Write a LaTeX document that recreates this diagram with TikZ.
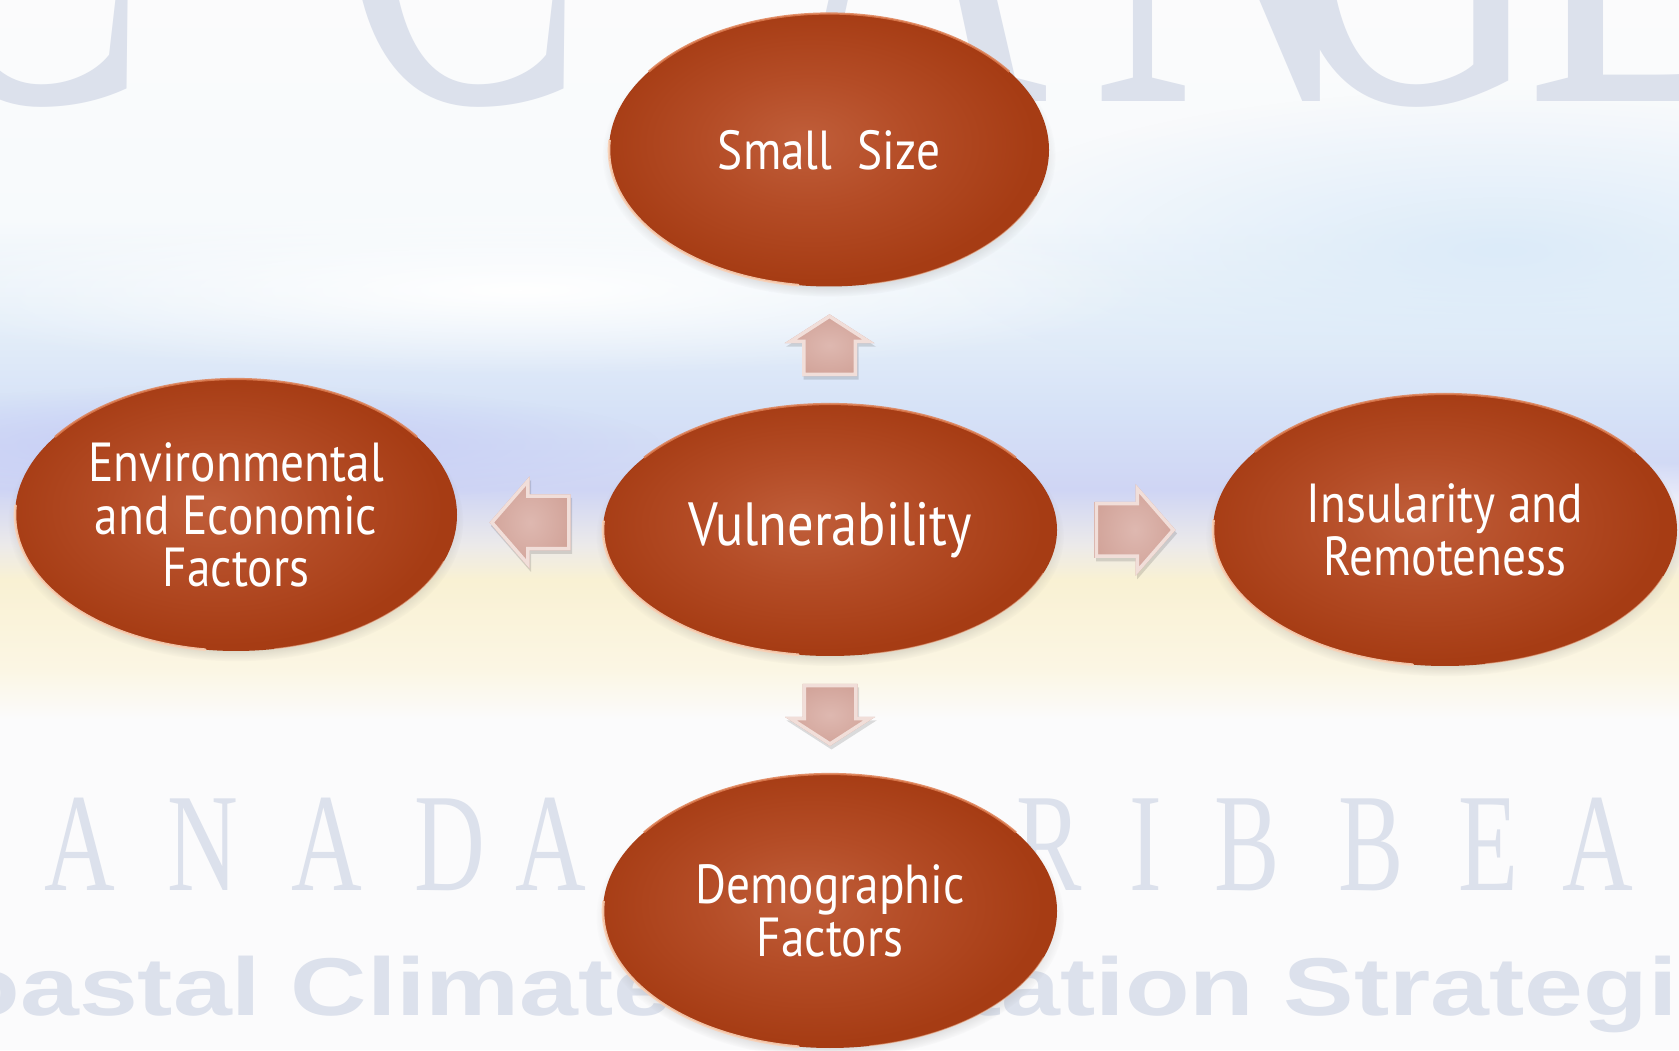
\documentclass[tikz,border=0pt]{standalone}
\usepackage{fontspec}
\setmainfont{PT Sans}[FakeStretch=0.86]
\newfontfamily\wmserif{Liberation Serif}
\newfontfamily\wmsans{Liberation Sans}
\usetikzlibrary{shapes.geometric,calc,fadings,shadows}

% palette
\definecolor{ballin}{RGB}{192,94,58}
\definecolor{ballmid}{RGB}{180,76,38}
\definecolor{ballout}{RGB}{166,60,20}
\definecolor{rimlight}{RGB}{250,208,180}
\definecolor{rimtop}{RGB}{222,126,82}
\definecolor{arrowbody}{RGB}{210,164,154}
\definecolor{arrowhi}{RGB}{222,184,176}
\definecolor{arrowbevel}{RGB}{241,222,217}
\definecolor{wmark}{RGB}{220,225,236}
\definecolor{bgwhite}{RGB}{251,251,252}
\definecolor{sandA}{RGB}{251,246,228}
\definecolor{sandB}{RGB}{249,241,211}
\definecolor{mixA}{RGB}{236,234,234}
\definecolor{lav}{RGB}{207,213,244}
\definecolor{skyA}{RGB}{214,226,247}
\definecolor{skyB}{RGB}{230,240,249}
\definecolor{skyC}{RGB}{247,250,252}
\definecolor{skyblob}{RGB}{220,235,249}
\definecolor{lavblob}{RGB}{198,204,245}

\pgfdeclareradialshading{ballshade}{\pgfpoint{-3bp}{2bp}}{color(0bp)=(ballin); color(12bp)=(ballmid); color(25bp)=(ballout); color(50bp)=(ballout)}
\tikzfading[name=softblob, inner color=transparent!0, outer color=transparent!100]

% block arrow outline: length, head length, head width, shaft width
\newcommand\arrowpoly[4]{({-#1/2},{-#4/2}) -- ({#1/2-#2},{-#4/2}) -- ({#1/2-#2},{-#3/2}) -- ({#1/2},0) -- ({#1/2-#2},{#3/2}) -- ({#1/2-#2},{#4/2}) -- ({-#1/2},{#4/2}) -- cycle}

% bevelled block arrow: position, angle, length, head length, head width, shaft width
\newcommand\blockarrow[6]{%
  \begin{scope}[shift={#1}]
    \begin{scope}[shift={(1.5,-3.5)}, rotate=#2]
      \fill[black, opacity=.13] \arrowpoly{#3}{#4}{#5}{#6};
    \end{scope}
    \begin{scope}[rotate=#2]
      \clip \arrowpoly{#3}{#4}{#5}{#6};
      \shade[inner color=arrowhi, outer color=arrowbody] \arrowpoly{#3}{#4}{#5}{#6};
      \draw[arrowbevel, line width=7pt, line join=miter] \arrowpoly{#3}{#4}{#5}{#6};
    \end{scope}
  \end{scope}}

% glossy rims of an oval: name, x radius, y radius
\newcommand\ballrims[3]{%
  \draw[rimtop, line width=2.2pt, opacity=.85]
    ($(#1.center)+(35:#2pt and #3pt)$) arc[start angle=35, end angle=145, x radius=#2pt, y radius=#3pt];
  \draw[rimlight, line width=2.6pt, line cap=round, opacity=.9]
    ($(#1.center)+(176:#2pt and #3pt)$) arc[start angle=176, end angle=262, x radius=#2pt, y radius=#3pt];
  \draw[rimlight, line width=1.2pt, line cap=round, opacity=.5]
    ($(#1.center)+(280:#2pt and #3pt)$) arc[start angle=280, end angle=340, x radius=#2pt, y radius=#3pt];}

\begin{document}
\begin{tikzpicture}[x=1pt, y=1pt,
  ball/.style={ellipse, inner sep=0pt, outer sep=0pt, shade, shading=ballshade,
    text=white, align=center, font=\fontsize{55}{52.5}\selectfont,
    circular drop shadow={shadow xshift=0pt, shadow yshift=-6pt, shadow scale=1.03, opacity=.45}},
  wmtop/.style={text=wmark, inner sep=0pt, anchor=base, xscale=.62, font=\wmserif\fontsize{600}{600}\selectfont},
  wmcap/.style={text=wmark, inner sep=0pt, anchor=base, xscale=.7, font=\wmserif\fontsize{140}{140}\selectfont},
  wmline/.style={text=wmark, inner sep=0pt, anchor=base west, xscale=1.29, font=\wmsans\bfseries\fontsize{82}{82}\selectfont}]
\useasboundingbox (0,0) rectangle (1679,1050);
\clip (0,0) rectangle (1679,1050);

% sky, sea and sand bands
\fill[bgwhite] (0,0) rectangle (1679,1050);
\shade[bottom color=bgwhite, top color=sandA] (0,330) rectangle (1679,380);
\shade[bottom color=sandA, top color=sandB] (0,380) rectangle (1679,470);
\shade[bottom color=sandB, top color=mixA] (0,470) rectangle (1679,505);
\shade[bottom color=mixA, top color=lav] (0,505) rectangle (1679,560);
\shade[bottom color=lav, top color=skyA] (0,560) rectangle (1679,640);
\shade[bottom color=skyA, top color=skyB] (0,640) rectangle (1679,740);
\shade[bottom color=skyB, top color=skyC] (0,740) rectangle (1679,830);
\shade[bottom color=skyC, top color=bgwhite] (0,830) rectangle (1679,1050);

% soft swirls in the backdrop
\fill[skyblob, path fading=softblob] (1500,800) ellipse[x radius=560, y radius=160];
\fill[white, path fading=softblob] (520,760) ellipse[x radius=640, y radius=85];
\fill[lavblob, path fading=softblob] (220,605) ellipse[x radius=440, y radius=60];
\fill[white, opacity=.8, path fading=softblob] (1580,545) ellipse[x radius=340, y radius=45];

% faded lettering behind the chart
\foreach \ch/\x [count=\i] in {C/25, C/462, A/915, N/1226, G/1410, E/1640}
  \node[wmtop] (wtop\i) at (\x,948) {\ch};
\foreach \ch/\x [count=\i] in {C/-43, A/80, N/203, A/327, D/450, A/551, C/798, A/921, R/1049, I/1146, B/1247, B/1371, E/1488, A/1598, N/1719}
  \node[wmcap] (wcap\i) at (\x,159) {\ch};
\node[wmline] (wline) at (-121,35) {Coastal Climate Adaptation Strategies};

% ovals
\node[ball, minimum width=440pt, minimum height=273pt] (small) at (829,900) {Small\ \ Size};
\node[ball, minimum width=454pt, minimum height=252pt, font=\fontsize{61}{61}\selectfont] (vul) at (830,520) {Vulnerability};
\node[ball, minimum width=442pt, minimum height=272pt] (env) at (236,535) {Environmental\\and Economic\\Factors};
\node[ball, minimum width=464pt, minimum height=272pt] (ins) at (1445,520) {Insularity and\\Remoteness};
\node[ball, minimum width=454pt, minimum height=274pt] (demo) at (830,139) {Demographic\\Factors};

\ballrims{small}{220}{136.5}
\ballrims{vul}{227}{126}
\ballrims{env}{221}{136}
\ballrims{ins}{232}{136}
\ballrims{demo}{227}{137}

% block arrows from the centre oval
\blockarrow{($(vul.north)!0.5!(small.south)$)}{90}{62}{29}{90}{55}
\blockarrow{($(vul.south)!0.5!(demo.north)$)}{-90}{62}{29}{90}{55}
\blockarrow{($(vul.west)!0.5!(env.east)$)}{180}{81}{40}{92}{56}
\blockarrow{($(vul.east)!0.5!(ins.west)$)}{0}{81}{40}{92}{56}
\end{tikzpicture}
\end{document}
